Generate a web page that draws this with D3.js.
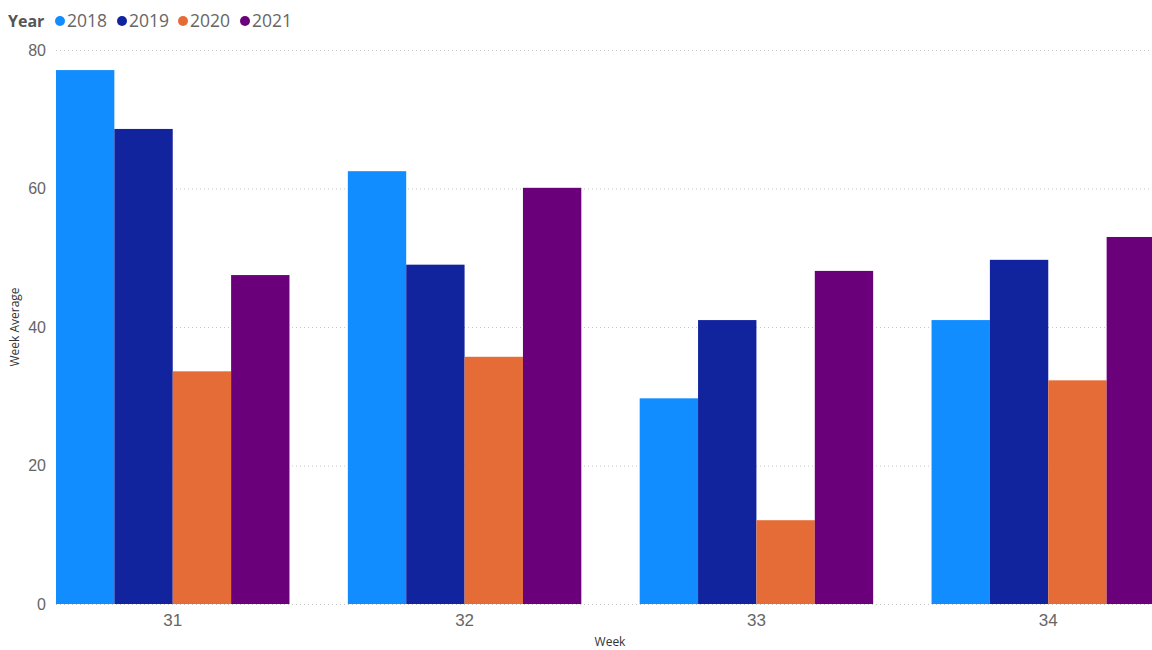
<!DOCTYPE html>
<html lang="en">
<head>
    <meta charset="UTF-8">
    <title>Week Average by Week and Year</title>
    <script src="https://d3js.org/d3.v7.min.js"></script>
    <style>
        body { margin: 0; background: #fff; }
        svg { display: block; font-family: "Segoe UI", "Open Sans", "Noto Sans", sans-serif; }
    </style>
</head>
<body>
    <div id="chart"></div>

    <script>
        const weeks = ["31", "32", "33", "34"];
        const years = ["2018", "2019", "2020", "2021"];
        const colors = ["#118DFF", "#12239E", "#E66C37", "#6B007B"];
        const values2018 = [77.1, 62.5, 29.7, 41.0];
        const values2019 = [68.6, 49.0, 41.0, 49.7];
        const values2020 = [33.6, 35.7, 12.1, 32.3];
        const values2021 = [47.5, 60.1, 48.1, 53.0];
        const yTicks = [0, 20, 40, 60, 80];

        const seriesValues = [values2018, values2019, values2020, values2021];

        const width = 1152, height = 650;
        const svg = d3.select("#chart").append("svg")
            .attr("width", width)
            .attr("height", height);

        const x = d3.scaleBand()
            .domain(weeks)
            .range([56, 1165])
            .paddingInner(0.2)
            .paddingOuter(0);

        const x1 = d3.scaleBand()
            .domain(years)
            .range([0, x.bandwidth()]);

        const y = d3.scaleLinear()
            .domain([0, 80])
            .range([604, 50]);

        // gridlines
        svg.append("g")
            .selectAll("line")
            .data(yTicks)
            .join("line")
            .attr("x1", 56)
            .attr("x2", width)
            .attr("y1", d => y(d) + 0.5)
            .attr("y2", d => y(d) + 0.5)
            .attr("stroke", "#c8c8c8")
            .attr("stroke-width", 1)
            .attr("stroke-dasharray", "1,3");

        // y tick labels
        const yAxis = svg.append("g")
            .attr("transform", "translate(56,0)")
            .call(d3.axisLeft(y).tickValues(yTicks).tickSize(0).tickPadding(10));
        yAxis.select(".domain").remove();
        yAxis.selectAll("text")
            .attr("fill", "#666")
            .style("font-size", "16px");

        // bars
        const groups = svg.append("g")
            .selectAll("g")
            .data(weeks)
            .join("g")
            .attr("transform", d => `translate(${x(d)},0)`);

        groups.selectAll("rect")
            .data((w, i) => years.map((yr, j) => ({ year: yr, value: seriesValues[j][i], color: colors[j] })))
            .join("rect")
            .attr("x", d => x1(d.year))
            .attr("y", d => y(d.value))
            .attr("width", x1.bandwidth())
            .attr("height", d => y(0) - y(d.value))
            .attr("fill", d => d.color);

        // x tick labels
        const xAxis = svg.append("g")
            .attr("transform", `translate(0,${y(0)})`)
            .call(d3.axisBottom(x).tickSize(0).tickPadding(10));
        xAxis.select(".domain").remove();
        xAxis.selectAll("text")
            .attr("fill", "#666")
            .style("font-size", "17px");

        // axis titles
        svg.append("text")
            .attr("x", 610)
            .attr("y", 646)
            .attr("text-anchor", "middle")
            .attr("fill", "#333")
            .style("font-size", "12px")
            .text("Week");

        svg.append("text")
            .attr("transform", "translate(19,327) rotate(-90)")
            .attr("text-anchor", "middle")
            .attr("fill", "#333")
            .style("font-size", "12px")
            .text("Week Average");

        // legend
        const legend = svg.append("g").attr("transform", "translate(0,21)");
        legend.append("text")
            .attr("x", 8)
            .attr("y", 6)
            .attr("fill", "#555")
            .style("font-size", "16px")
            .style("font-weight", "bold")
            .text("Year");

        const legendX = [60, 122, 183, 245];
        const items = legend.selectAll("g.item")
            .data(years)
            .join("g")
            .attr("class", "item")
            .attr("transform", (d, i) => `translate(${legendX[i]},0)`);
        items.append("circle")
            .attr("r", 5)
            .attr("cy", 0)
            .attr("fill", (d, i) => colors[i]);
        items.append("text")
            .attr("x", 7)
            .attr("y", 6)
            .attr("fill", "#666")
            .style("font-size", "17.5px")
            .text(d => d);
    </script>
</body>
</html>
